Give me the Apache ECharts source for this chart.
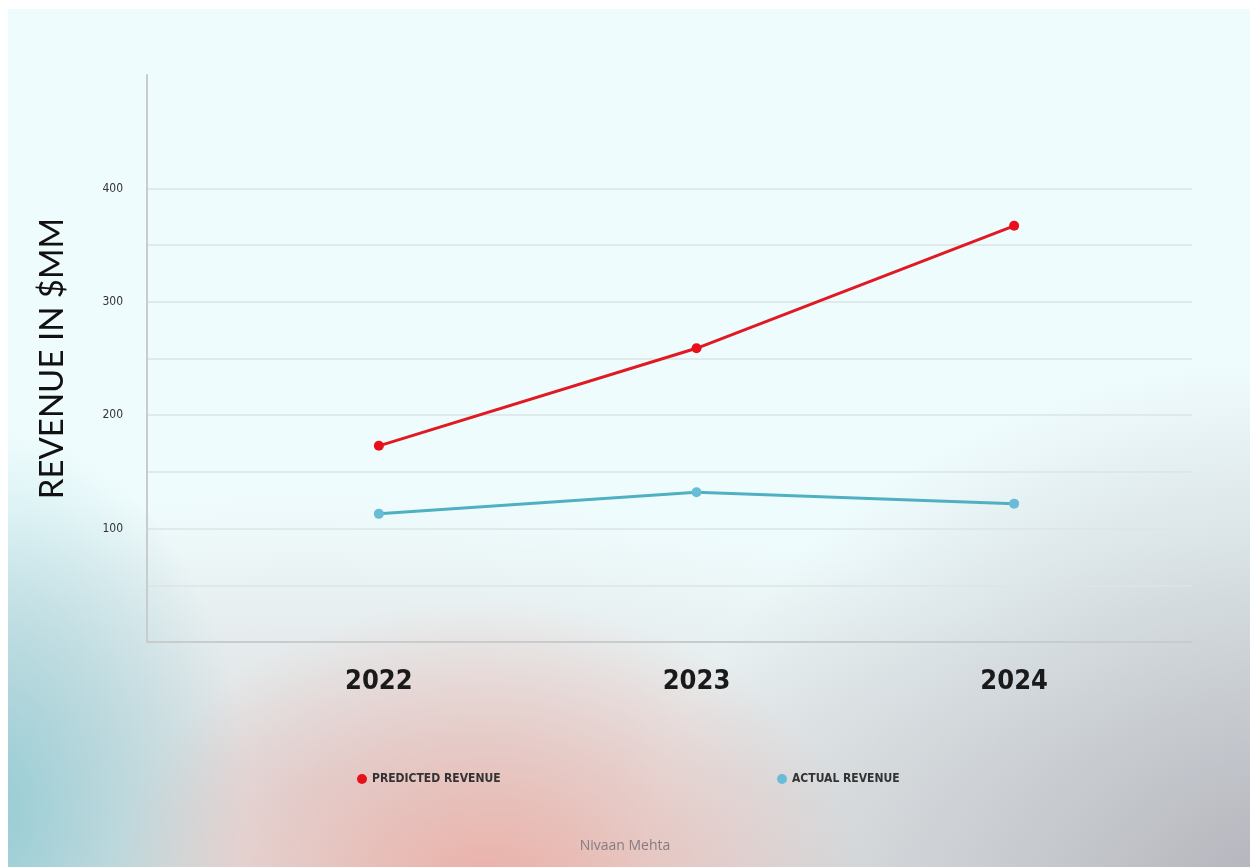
<!DOCTYPE html>
<html lang="en">

<head>
  <meta charset="UTF-8">
  <script src="https://cdn.jsdelivr.net/npm/echarts@6/dist/echarts.min.js"></script>
  <title>Revenue</title>
  <style>
    html,
    body {
      height: 100%;
      width: 100%;
      padding: 0;
      margin: 0;
      background: #fff;
    }

    main {
      position: absolute;
      left: 8px;
      top: 9px;
      right: 0;
      bottom: 0;
      background:
        radial-gradient(ellipse 380px 300px at 480px 890px, rgba(236, 168, 158, 0.9), rgba(236, 172, 162, 0) 100%),
        radial-gradient(ellipse 260px 380px at -20px 800px, rgba(150, 204, 212, 1), rgba(150, 204, 212, 0) 100%),
        radial-gradient(ellipse 660px 560px at 1290px 910px, rgba(176, 176, 184, 1), rgba(200, 200, 200, 0) 100%),
        radial-gradient(ellipse 820px 300px at 300px 780px, rgba(222, 222, 224, 0.95), rgba(226, 226, 228, 0) 100%),
        linear-gradient(180deg, #effcfd 0%, #effcfd 62%, #e6eeee 100%);
    }

    #chart {
      position: absolute;
      left: -8px;
      top: -9px;
      width: 1250px;
      height: 867px;
    }
  </style>
</head>

<body>
  <main>
    <div id="chart"></div>
  </main>
</body>
<script>
  const years = [2022, 2023, 2024]
  const predicted = [173, 259, 367]
  const actual = [113, 132, 122]
  const yLabels = [100, 200, 300, 400]

  const narrow = "'DejaVu Sans Condensed', 'Roboto Condensed', Roboto, sans-serif"

  const gridColors = ['rgba(0,0,0,0)']
  for (let i = 1; i <= 8; i++) gridColors.push('#dde5e5')
  gridColors.push('rgba(0,0,0,0)', 'rgba(0,0,0,0)')

  const ins = echarts.init(document.getElementById('chart'))
  ins.setOption({
    backgroundColor: 'transparent',
    animation: false,
    title: {
      text: 'Nivaan Mehta',
      left: 'center',
      top: 834,
      textStyle: {
        fontFamily: 'Open Sans',
        fontSize: 14,
        fontWeight: 'normal',
        color: '#857c82'
      }
    },
    legend: [
      {
        data: ['PREDICTED REVENUE'],
        left: 352,
        top: 768,
        icon: 'circle',
        itemWidth: 10,
        itemHeight: 10,
        textStyle: { fontFamily: narrow, fontWeight: 'bold', fontSize: 12, color: '#333' }
      },
      {
        data: ['ACTUAL REVENUE'],
        left: 772,
        top: 768,
        icon: 'circle',
        itemWidth: 10,
        itemHeight: 10,
        textStyle: { fontFamily: narrow, fontWeight: 'bold', fontSize: 12, color: '#333' }
      }
    ],
    grid: {
      left: 147,
      right: 58,
      top: 75,
      bottom: 225
    },
    xAxis: {
      type: 'value',
      min: 2021.27,
      max: 2024.56,
      splitLine: { show: false },
      axisTick: { show: false },
      axisLine: { show: true, lineStyle: { color: '#c9cccc', width: 2 } },
      axisLabel: {
        customValues: years,
        formatter: (v) => String(v),
        margin: 26,
        fontFamily: narrow,
        fontWeight: 'bold',
        fontSize: 27,
        color: '#1a1a1a'
      }
    },
    yAxis: {
      type: 'value',
      min: 0,
      max: 500,
      interval: 50,
      name: 'REVENUE IN $MM',
      nameLocation: 'middle',
      nameRotate: 90,
      nameGap: 78,
      nameTextStyle: {
        fontFamily: 'Lato',
        fontSize: 33,
        color: '#111'
      },
      axisLine: { show: true, lineStyle: { color: '#c9cccc', width: 2 } },
      axisTick: { show: false },
      splitLine: { show: true, lineStyle: { color: gridColors, width: 1.5 } },
      axisLabel: {
        margin: 24,
        fontFamily: narrow,
        fontSize: 12,
        color: '#333',
        formatter: (v) => (yLabels.includes(v) ? String(v) : '')
      }
    },
    series: [
      {
        type: 'line',
        name: 'PREDICTED REVENUE',
        data: years.map((y, i) => [y, predicted[i]]),
        symbol: 'circle',
        symbolSize: 10,
        color: '#e8101a',
        lineStyle: { width: 3, color: '#e01a22' }
      },
      {
        type: 'line',
        name: 'ACTUAL REVENUE',
        data: years.map((y, i) => [y, actual[i]]),
        symbol: 'circle',
        symbolSize: 10,
        color: '#68bcd6',
        lineStyle: { width: 3, color: '#4fb0c4' }
      }
    ]
  })
</script>

</html>
